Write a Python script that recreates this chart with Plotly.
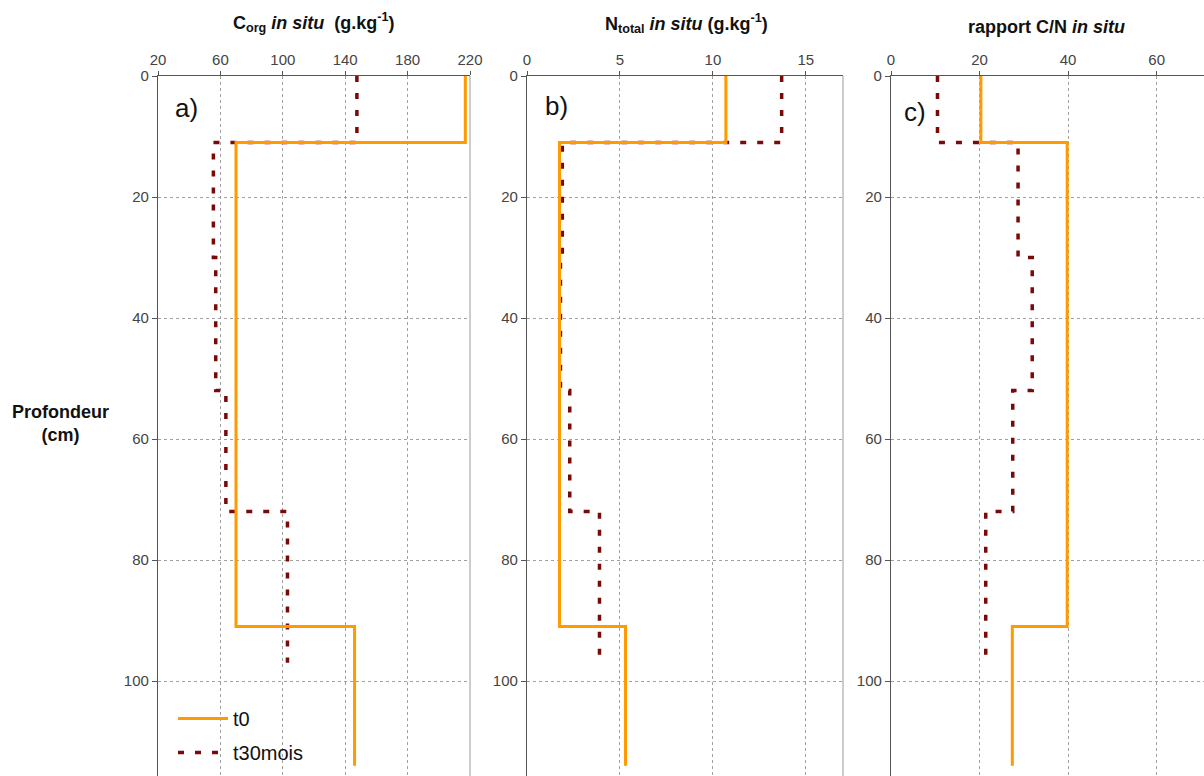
import plotly.graph_objects as go

# ---------------- data ----------------
depth_t0 = [0, 11, 91]
bottom_t0 = 114
depth_t30 = [0, 11, 30, 52, 72]
bottom_t30 = 97

corg_t0 = [217, 70, 146]
corg_t30 = [147.5, 55.5, 57, 63.5, 103]
ntot_t0 = [10.7, 1.75, 5.3]
ntot_t30 = [13.7, 1.9, 1.8, 2.3, 3.9]
cn_t0 = [20.3, 39.8, 27.4]
cn_t30 = [10.5, 28.7, 31.9, 27.5, 21.4]

series_names = ["t0", "t30mois"]
y_ticks = [0, 20, 40, 60, 80, 100]
xa_ticks = [20, 60, 100, 140, 180, 220]
xb_ticks = [0, 5, 10, 15]
xc_ticks = [0, 20, 40, 60]

W, H = 1204, 776
ORANGE = "#FF9A00"
DARKRED = "#7A0A0A"
FONT = "Liberation Sans, Arial, sans-serif"


def profile(values, tops, bottom):
    return values + [values[-1]], tops + [bottom]


fig = go.Figure()

panels = [
    ("x", "y", corg_t0, corg_t30),
    ("x2", "y2", ntot_t0, ntot_t30),
    ("x3", "y3", cn_t0, cn_t30),
]
for i, (xa, ya, v0, v30) in enumerate(panels):
    x0, y0 = profile(v0, depth_t0, bottom_t0)
    x1, y1 = profile(v30, depth_t30, bottom_t30)
    fig.add_trace(go.Scatter(
        x=x1, y=y1, xaxis=xa, yaxis=ya, mode="lines", line_shape="vh",
        line=dict(color=DARKRED, width=3.5, dash="6px,11px"),
        name=series_names[1], legendgroup="b", showlegend=(i == 0), legendrank=2))
    fig.add_trace(go.Scatter(
        x=x0, y=y0, xaxis=xa, yaxis=ya, mode="lines", line_shape="vh",
        line=dict(color=ORANGE, width=3),
        name=series_names[0], legendgroup="a", showlegend=(i == 0), legendrank=1))

ytop = 1 - 76 / H
yrange = [(H - 76) / 6.05, 0]

common_x = dict(side="top", showgrid=True, gridcolor="#a0a0a0", griddash="dot", gridwidth=1,
                showline=True, linecolor="#555", linewidth=1.2, ticks="outside", ticklen=4,
                tickcolor="#555", tickfont=dict(family=FONT, size=15, color="#444"),
                zeroline=False, automargin=False)
common_y = dict(range=yrange, showgrid=True, gridcolor="#a0a0a0", griddash="dot", gridwidth=1,
                showline=True, linecolor="#555", linewidth=1.2, ticks="outside", ticklen=5,
                tickcolor="#555", tickvals=y_ticks, domain=[0, ytop],
                tickfont=dict(family=FONT, size=15, color="#444"), zeroline=False,
                automargin=False)

fig.update_layout(
    width=W, height=H, margin=dict(l=0, r=0, t=0, b=0),
    paper_bgcolor="white", plot_bgcolor="white",
    xaxis=dict(common_x, domain=[158 / W, 470 / W], range=[20, 220], tickvals=xa_ticks, anchor="y"),
    xaxis2=dict(common_x, domain=[527 / W, 843 / W], range=[0, 17], tickvals=xb_ticks, anchor="y2"),
    xaxis3=dict(common_x, domain=[891 / W, 1.0], range=[0, 70.7], tickvals=xc_ticks, anchor="y3"),
    yaxis=dict(common_y, anchor="x"),
    yaxis2=dict(common_y, anchor="x2"),
    yaxis3=dict(common_y, anchor="x3"),
    legend=dict(x=173 / W, y=1 - 699 / H, xanchor="left", yanchor="top",
                font=dict(family=FONT, size=20, color="#111"), bgcolor="rgba(0,0,0,0)",
                tracegroupgap=5, itemwidth=50, traceorder="grouped"),
    showlegend=True,
)

# right borders of panels a and b
for xr in ["x domain", "x2 domain"]:
    fig.add_shape(type="line", xref=xr, yref="paper", x0=1, x1=1, y0=0, y1=ytop,
                  line=dict(color="#aaa", width=1.2))

ann_font = dict(family=FONT, size=18, color="#111")
titles = [
    (314, 22, "<b>C<sub>org</sub> <i>in situ</i>  (g.kg<sup>-1</sup>)</b>"),
    (686, 23, "<b>N<sub>total</sub> <i>in situ</i> (g.kg<sup>-1</sup>)</b>"),
    (1046, 27, "<b>rapport C/N <i>in situ</i></b>"),
]
for x, y, t in titles:
    fig.add_annotation(x=x / W, y=1 - y / H, xref="paper", yref="paper", text=t,
                       showarrow=False, font=ann_font, xanchor="center", yanchor="middle")

for x, y, t in [(186, 108, "a)"), (556, 106, "b)"), (915, 112, "c)")]:
    fig.add_annotation(x=x / W, y=1 - y / H, xref="paper", yref="paper", text=t,
                       showarrow=False, font=dict(family=FONT, size=26, color="#111"),
                       xanchor="center", yanchor="middle")

fig.add_annotation(x=60 / W, y=1 - 424 / H, xref="paper", yref="paper",
                   text="<b>Profondeur<br>(cm)</b>", showarrow=False,
                   font=dict(family=FONT, size=18, color="#111"), align="center",
                   xanchor="center", yanchor="middle")

fig.write_html("out.html", config={"displayModeBar": False},
               post_script="document.body.style.margin='0';")
